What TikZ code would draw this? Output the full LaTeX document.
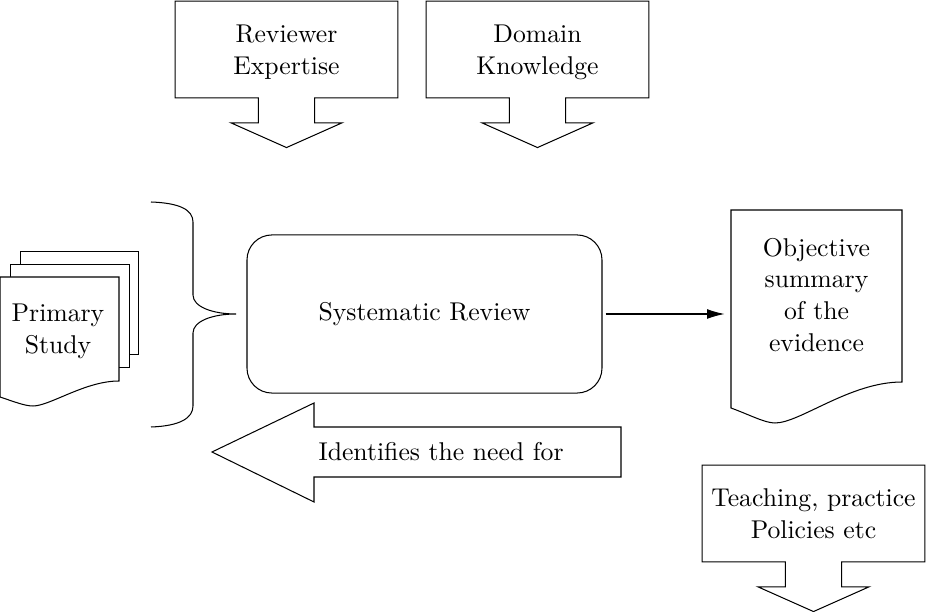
\documentclass[tikz,border=0pt]{standalone}
\usetikzlibrary{arrows.meta,shapes.arrows}

\begin{document}
\begin{tikzpicture}[x=0.389pt,y=-0.389pt,font=\fontsize{10}{12.4}\selectfont]
  \tikzstyle{feedbox}=[draw, arrow box, align=center, inner sep=0pt, text depth=0pt,
    minimum width=86.7pt, minimum height=37.7pt,
    arrow box arrows={north:0pt, east:0pt, west:0pt, south:19.1pt from border},
    arrow box shaft width=21.8pt, arrow box head extend=10.7pt, arrow box tip angle=132]
  \tikzstyle{reviewbox}=[draw, rectangle, rounded corners=9.7pt,
    minimum width=138.1pt, minimum height=61.5pt]
  \tikzstyle{sheet}=[draw, fill=white]
  \useasboundingbox (0,0) rectangle (926,612);

  % inputs on top
  \node[feedbox] (expert) at (286.5,49.5) {Reviewer\\Expertise};
  \node[feedbox] (domain) at (537.5,49.5) {Domain\\Knowledge};

  % stack of primary studies
  \draw[sheet] (20.5,251.5) rectangle (138.5,354.5);
  \draw[sheet] (10.5,264.5) rectangle (129.5,367.5);
  \draw[sheet] (0,277) -- (119,277) -- (119,381)
    .. controls (85,381) and (50,406) .. (33,406)
    .. controls (25,406) and (15,402) .. (0,397) -- cycle;
  \node[align=center] (primary) at (58,331) {Primary\\Study};

  % brace
  \draw (151,202) .. controls (180,203) and (193,210) .. (193,222) -- (193,295)
    .. controls (193,307) and (213,314) .. (236,314) coordinate (tip)
    .. controls (213,314) and (193,321) .. (193,333) -- (193,406)
    .. controls (193,418) and (180,426) .. (151,427);

  \node[reviewbox] (review) at (424.5,314) {Systematic Review};

  % summary document
  \draw (731,210) -- (902,210) -- (902,382)
    .. controls (850,382) and (800,423) .. (775,423)
    .. controls (765,423) and (750,415) .. (731,408) -- cycle;
  \node[align=center, minimum width=66.5pt] (summary) at (816.5,295)
    {Objective\\summary\\of the\\evidence};
  \draw[-{Latex[length=6.8pt,width=3.8pt]}, shorten <=1.2pt, shorten >=2.3pt]
    (review.east) -- (review.east -| summary.west);

  % feedback arrow
  \draw (621,427) -- (314,427) -- (314,403) -- (212,452) -- (314,502)
    -- (314,477) -- (621,477) -- cycle;
  \node[anchor=west, inner sep=0pt] (need) at (318,452) {Identifies the need for};

  % output
  \node[feedbox] (policy) at (813.5,513.5) {Teaching, practice\\Policies etc};
\end{tikzpicture}
\end{document}
